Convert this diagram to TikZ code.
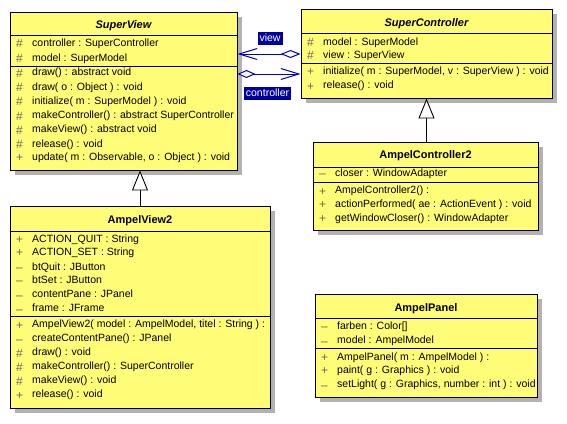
\documentclass[tikz,border=0pt]{standalone}
\usepackage{fontspec}
\setmainfont{Liberation Sans}
\usetikzlibrary{arrows.meta,shadows}
\definecolor{umlyellow}{RGB}{255,252,120}
\definecolor{umlshadow}{RGB}{178,178,178}
\definecolor{assocblue}{RGB}{0,0,200}
\definecolor{labelblue}{RGB}{0,0,160}
\definecolor{visgray}{RGB}{105,105,105}
\newcommand\vP{+}
\newcommand\vR{\#}
\newcommand\vM{--}
\newcommand\umlrows[3]{%
  \foreach \yy/\ss/\txtval [count=\i] in {#3} {
    \node[vis] (#1-v\i) at (#2+6,\yy) {\ss};
    \node[txt] (#1-t\i) at (#2+22,\yy) {\txtval};
  }}
\tikzset{
  classbox/.style={draw=black, line width=0.9pt, fill=umlyellow, inner sep=0pt,
    general shadow={fill=umlshadow, shadow xshift=5pt, shadow yshift=-5pt}},
  sepline/.style={draw=black, line width=0.9pt},
  txt/.style={anchor=west, inner sep=0pt, font=\fontsize{10.5}{12}\selectfont, text height=7.5pt, text depth=2pt},
  vis/.style={anchor=west, inner sep=0pt, text=visgray, font=\fontsize{12}{14}\selectfont, text height=8pt, text depth=0pt},
  title/.style={anchor=center, inner sep=0pt, font=\fontsize{11}{13}\selectfont\bfseries, text height=8pt, text depth=2pt},
  inherit/.style={draw=black, line width=0.9pt, -{Triangle[length=20pt,width=16pt,fill=white]}},
  assoc/.style={draw=assocblue, line width=1pt},
  alabel/.style={fill=labelblue, text=white, inner sep=2pt, font=\fontsize{10.5}{12}\selectfont, text height=7.5pt, text depth=2pt}
}
\begin{document}
\begin{tikzpicture}[x=1pt,y=-1pt]
\useasboundingbox (0,0) rectangle (567,423);
% ---------- SuperView
\node[classbox, minimum width=227pt, minimum height=158pt] (sv) at (123.5,91) {};
\draw[sepline] (sv.west |- 0,35) -- (sv.east |- 0,35);
\draw[sepline] (sv.west |- 0,66) -- (sv.east |- 0,66);
\node[title, font=\fontsize{11}{13}\selectfont\bfseries\itshape] (sv-title) at (123.5,25) {SuperView};
\umlrows{sv}{10}{43.7/\vR/{controller : SuperController}, 58.3/\vR/{model : SuperModel},
  73/\vR/{draw() : abstract void}, 87.3/\vR/{draw( o : Object ) : void},
  101.7/\vR/{initialize( m : SuperModel ) : void}, 116/\vR/{makeController() : abstract SuperController},
  130/\vR/{makeView() : abstract void}, 144.3/\vR/{release() : void},
  157.8/\vP/{update( m : Observable, o : Object ) : void}}
% ---------- SuperController
\node[classbox, minimum width=251pt, minimum height=89pt] (sc) at (426.5,53.5) {};
\draw[sepline] (sc.west |- 0,33) -- (sc.east |- 0,33);
\draw[sepline] (sc.west |- 0,63) -- (sc.east |- 0,63);
\node[title, font=\fontsize{11}{13}\selectfont\bfseries\itshape] (sc-title) at (426.5,23) {SuperController};
\umlrows{sc}{301}{42.3/\vR/{model : SuperModel}, 55.7/\vR/{view : SuperView},
  71.7/\vP/{initialize( m : SuperModel, v : SuperView ) : void}, 86/\vP/{release() : void}}
% ---------- AmpelController2
\node[classbox, minimum width=225pt, minimum height=88pt] (ac) at (425.5,186) {};
\draw[sepline] (ac.west |- 0,167) -- (ac.east |- 0,167);
\draw[sepline] (ac.west |- 0,182) -- (ac.east |- 0,182);
\node[title] (ac-title) at (425.5,155) {AmpelController2};
\umlrows{ac}{313}{173.3/\vM/{closer : WindowAdapter},
  191/\vP/{AmpelController2() :}, 204.3/\vP/{actionPerformed( ae : ActionEvent ) : void},
  218.3/\vP/{getWindowCloser() : WindowAdapter}}
% ---------- AmpelView2
\node[classbox, minimum width=260pt, minimum height=202pt] (av) at (140,307) {};
\draw[sepline] (av.west |- 0,231) -- (av.east |- 0,231);
\draw[sepline] (av.west |- 0,316) -- (av.east |- 0,316);
\node[title] (av-title) at (140,220) {AmpelView2};
\umlrows{av}{10}{239.3/\vP/{ACTION\_QUIT : String}, 252.7/\vP/{ACTION\_SET : String},
  267.3/\vM/{btQuit : JButton}, 280.7/\vM/{btSet : JButton},
  295/\vM/{contentPane : JPanel}, 309/\vM/{frame : JFrame},
  325/\vP/{AmpelView2( model : AmpelModel, titel : String ) :},
  339/\vM/{createContentPane() : JPanel}, 353/\vR/{draw() : void},
  367/\vR/{makeController() : SuperController}, 381/\vR/{makeView() : void},
  395/\vP/{release() : void}}
% ---------- AmpelPanel
\node[classbox, minimum width=222pt, minimum height=103pt] (ap) at (426,345.5) {};
\draw[sepline] (ap.west |- 0,318) -- (ap.east |- 0,318);
\draw[sepline] (ap.west |- 0,348) -- (ap.east |- 0,348);
\node[title] (ap-title) at (426,308.3) {AmpelPanel};
\umlrows{ap}{315}{326.7/\vM/{farben : Color[]}, 341/\vM/{model : AmpelModel},
  357.3/\vP/{AmpelPanel( m : AmpelModel ) :}, 370.7/\vP/{paint( g : Graphics ) : void},
  385/\vM/{setLight( g : Graphics, number : int ) : void}}
% ---------- inheritance
\draw[inherit] (av.north) -- (av.north |- sv.south);
\draw[inherit] (sc.south |- ac.north) -- (sc.south);
% ---------- associations
\coordinate (v1) at (sc.west |- 0,54);
\coordinate (v2) at (sv.east |- 0,54);
\coordinate (c1) at (sv.east |- 0,74);
\coordinate (c2) at (sc.west |- 0,74);
\draw[assoc, {Diamond[length=20pt,width=8pt,fill=white]}-{Straight Barb[length=18pt,width=11pt]}] (v1) -- (v2);
\draw[assoc, {Diamond[length=18pt,width=8pt,fill=white]}-{Straight Barb[length=18pt,width=11pt]}] (c1) -- (c2);
\node[alabel] (lview) at (270,38.5) {view};
\node[alabel] (lctrl) at (267.5,93.5) {controller};
\end{tikzpicture}
\end{document}
